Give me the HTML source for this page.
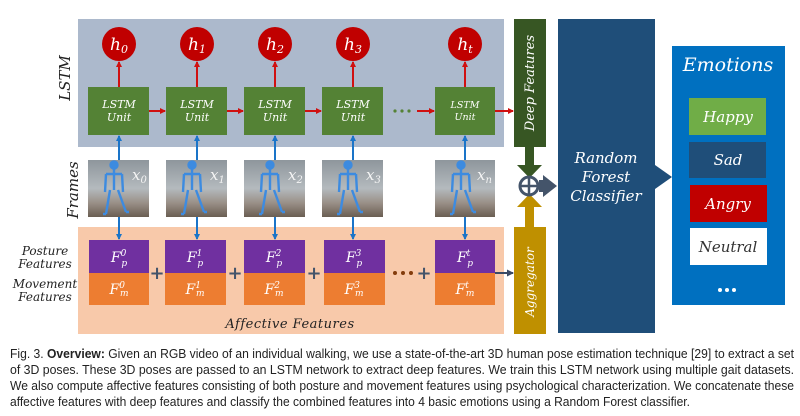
<!DOCTYPE html>
<html><head><meta charset="utf-8"><style>
html,body{margin:0;padding:0;background:#fff;width:800px;height:416px;overflow:hidden}
svg text{font-family:"DejaVu Serif","Liberation Serif",serif;font-style:italic}
.cap{font-family:"Liberation Sans Narrow","Liberation Sans",sans-serif;font-style:normal;font-size:12.5px;fill:#222}
</style></head><body>
<svg width="800" height="416" viewBox="0 0 800 416" xmlns="http://www.w3.org/2000/svg">
<defs>
<marker id="ar" markerWidth="6" markerHeight="6" refX="5" refY="3" orient="auto" markerUnits="userSpaceOnUse"><path d="M0,0L6,3L0,6z" fill="#d01010"/></marker>
<marker id="ab" markerWidth="6" markerHeight="6" refX="5" refY="3" orient="auto" markerUnits="userSpaceOnUse"><path d="M0,0L6,3L0,6z" fill="#1a74c8"/></marker>
<marker id="ad" markerWidth="7" markerHeight="7" refX="6" refY="3.5" orient="auto" markerUnits="userSpaceOnUse"><path d="M0,0L7,3.5L0,7z" fill="#3a4a66"/></marker>
<linearGradient id="fg" x1="0" y1="0" x2="0" y2="1"><stop offset="0" stop-color="#8e969c"/><stop offset="0.5" stop-color="#b4babe"/><stop offset="0.75" stop-color="#9a9088"/><stop offset="1" stop-color="#6a5e52"/></linearGradient>
<g id="sk" fill="none" stroke="#3d8be0" stroke-width="2.4">
<circle cx="0" cy="5" r="3.5" fill="#3d8be0"/><path d="M0,9V30M-8,14L8,14M-8,14L-9,32M8,14L9,32M-4,30L-8,54M4,30L12,52M-8,54h-3M12,52h3"/></g>
</defs>
<rect x="78" y="19" width="426" height="128" fill="#acb9cc"/>
<rect x="78" y="227" width="426" height="107" fill="#f8c9aa"/>
<text x="0" y="0" font-size="15" fill="#222" transform="translate(70,78) rotate(-90)" text-anchor="middle">LSTM</text>
<text x="0" y="0" font-size="15" fill="#222" transform="translate(78,190) rotate(-90)" text-anchor="middle">Frames</text>
<text x="45" y="255" font-size="12" fill="#222" text-anchor="middle">Posture</text>
<text x="45" y="268" font-size="12" fill="#222" text-anchor="middle">Features</text>
<text x="45" y="288" font-size="12" fill="#222" text-anchor="middle">Movement</text>
<text x="45" y="301" font-size="12" fill="#222" text-anchor="middle">Features</text>

<g font-size="11" fill="#fff" text-anchor="middle">
<circle cx="119" cy="44" r="17" fill="#c00000"/><circle cx="197" cy="44" r="17" fill="#c00000"/><circle cx="275" cy="44" r="17" fill="#c00000"/><circle cx="353" cy="44" r="17" fill="#c00000"/><circle cx="465" cy="44" r="17" fill="#c00000"/>
<text x="119" y="50" font-size="17">h<tspan font-size="11" dy="3">0</tspan></text>
<text x="197" y="50" font-size="17">h<tspan font-size="11" dy="3">1</tspan></text>
<text x="275" y="50" font-size="17">h<tspan font-size="11" dy="3">2</tspan></text>
<text x="353" y="50" font-size="17">h<tspan font-size="11" dy="3">3</tspan></text>
<text x="465" y="50" font-size="17">h<tspan font-size="11" dy="3">t</tspan></text>
<g fill="#548235">
<rect x="88" y="87" width="61" height="48"/><rect x="166" y="87" width="61" height="48"/><rect x="244" y="87" width="61" height="48"/><rect x="322" y="87" width="61" height="48"/><rect x="435" y="87" width="60" height="48"/></g>
<text x="119" y="108">LSTM</text><text x="119" y="121">Unit</text>
<text x="197" y="108">LSTM</text><text x="197" y="121">Unit</text>
<text x="275" y="108">LSTM</text><text x="275" y="121">Unit</text>
<text x="353" y="108">LSTM</text><text x="353" y="121">Unit</text>
<text x="465" y="108" font-size="9.5">LSTM</text><text x="465" y="120" font-size="9.5">Unit</text>
</g>
<g stroke="#d01010" stroke-width="2" marker-end="url(#ar)">
<line x1="119" y1="87" x2="119" y2="62"/><line x1="197" y1="87" x2="197" y2="62"/><line x1="275" y1="87" x2="275" y2="62"/><line x1="353" y1="87" x2="353" y2="62"/><line x1="465" y1="87" x2="465" y2="62"/>
<line x1="149" y1="111" x2="165" y2="111"/><line x1="227" y1="111" x2="243" y2="111"/><line x1="305" y1="111" x2="321" y2="111"/><line x1="417" y1="111" x2="434" y2="111"/><line x1="495" y1="111" x2="513" y2="111"/>
</g>
<g fill="#548235"><circle cx="395" cy="111" r="1.6"/><circle cx="402" cy="111" r="1.6"/><circle cx="409" cy="111" r="1.6"/></g>
<g>
<rect x="88" y="160" width="61" height="57" fill="url(#fg)"/><rect x="166" y="160" width="61" height="57" fill="url(#fg)"/><rect x="244" y="160" width="61" height="57" fill="url(#fg)"/><rect x="322" y="160" width="61" height="57" fill="url(#fg)"/><rect x="435" y="160" width="60" height="57" fill="url(#fg)"/>
<use href="#sk" x="114" y="160"/><use href="#sk" x="192" y="160"/><use href="#sk" x="270" y="160"/><use href="#sk" x="348" y="160"/><use href="#sk" x="461" y="160"/>
</g>
<g font-size="15" fill="#f4f4f4">
<text x="132" y="180">x<tspan font-size="10" dy="3">0</tspan></text><text x="210" y="180">x<tspan font-size="10" dy="3">1</tspan></text><text x="288" y="180">x<tspan font-size="10" dy="3">2</tspan></text><text x="366" y="180">x<tspan font-size="10" dy="3">3</tspan></text><text x="477" y="180">x<tspan font-size="10" dy="3">n</tspan></text>
</g>
<g stroke="#1a74c8" stroke-width="2" marker-end="url(#ab)">
<line x1="119" y1="160" x2="119" y2="136"/><line x1="197" y1="160" x2="197" y2="136"/><line x1="275" y1="160" x2="275" y2="136"/><line x1="353" y1="160" x2="353" y2="136"/><line x1="465" y1="160" x2="465" y2="136"/>
<line x1="119" y1="217" x2="119" y2="239"/><line x1="197" y1="217" x2="197" y2="239"/><line x1="275" y1="217" x2="275" y2="239"/><line x1="353" y1="217" x2="353" y2="239"/><line x1="465" y1="217" x2="465" y2="239"/>
</g>
<g>
<rect x="89" y="240" width="60" height="33" fill="#7030a0"/><rect x="89" y="273" width="60" height="32" fill="#ed7d31"/>
<rect x="165" y="240" width="61" height="33" fill="#7030a0"/><rect x="165" y="273" width="61" height="32" fill="#ed7d31"/>
<rect x="244" y="240" width="61" height="33" fill="#7030a0"/><rect x="244" y="273" width="61" height="32" fill="#ed7d31"/>
<rect x="324" y="240" width="61" height="33" fill="#7030a0"/><rect x="324" y="273" width="61" height="32" fill="#ed7d31"/>
<rect x="435" y="240" width="60" height="33" fill="#7030a0"/><rect x="435" y="273" width="60" height="32" fill="#ed7d31"/>
</g>
<g font-size="14" fill="#fff" text-anchor="middle">
<text x="119" y="262">F<tspan font-size="9" dy="-6">0</tspan><tspan font-size="9" dx="-5" dy="10">p</tspan></text>
<text x="195" y="262">F<tspan font-size="9" dy="-6">1</tspan><tspan font-size="9" dx="-5" dy="10">p</tspan></text>
<text x="274" y="262">F<tspan font-size="9" dy="-6">2</tspan><tspan font-size="9" dx="-5" dy="10">p</tspan></text>
<text x="354" y="262">F<tspan font-size="9" dy="-6">3</tspan><tspan font-size="9" dx="-5" dy="10">p</tspan></text>
<text x="465" y="262">F<tspan font-size="9" dy="-6">t</tspan><tspan font-size="9" dx="-3" dy="10">p</tspan></text>
<text x="119" y="294">F<tspan font-size="9" dy="-6">0</tspan><tspan font-size="9" dx="-5" dy="8">m</tspan></text>
<text x="195" y="294">F<tspan font-size="9" dy="-6">1</tspan><tspan font-size="9" dx="-5" dy="8">m</tspan></text>
<text x="274" y="294">F<tspan font-size="9" dy="-6">2</tspan><tspan font-size="9" dx="-5" dy="8">m</tspan></text>
<text x="354" y="294">F<tspan font-size="9" dy="-6">3</tspan><tspan font-size="9" dx="-5" dy="8">m</tspan></text>
<text x="465" y="294">F<tspan font-size="9" dy="-6">t</tspan><tspan font-size="9" dx="-3" dy="8">m</tspan></text>
</g>
<g fill="#44546a" font-family="Liberation Sans" font-weight="bold" font-size="18" text-anchor="middle">
<text x="157" y="279" style="font-style:normal">+</text><text x="235" y="279" style="font-style:normal">+</text><text x="314" y="279" style="font-style:normal">+</text><text x="424" y="279" style="font-style:normal">+</text>
</g>
<g fill="#843c0c"><circle cx="395" cy="273" r="2"/><circle cx="403" cy="273" r="2"/><circle cx="411" cy="273" r="2"/></g>
<line x1="495" y1="273" x2="513" y2="273" stroke="#3a4a66" stroke-width="2" marker-end="url(#ad)"/>
<text x="290" y="328" font-size="13" fill="#222" text-anchor="middle" letter-spacing="0.5">Affective Features</text>

<rect x="514" y="19" width="32" height="128" fill="#375623"/>
<text x="0" y="0" font-size="13" fill="#fff" text-anchor="middle" transform="translate(534,83) rotate(-90)">Deep Features</text>
<path d="M525,147h9v18h8l-12.5,13l-12.5,-13h8z" fill="#375623"/>
<rect x="514" y="227" width="32" height="107" fill="#bf9000"/>
<text x="0" y="0" font-size="12" fill="#fff" text-anchor="middle" transform="translate(534,282) rotate(-90)">Aggregator</text>
<path d="M525,227h9v-20h8l-12.5,-13l-12.5,13h8z" fill="#bf9000"/>
<circle cx="529" cy="186" r="9" fill="#fff" stroke="#44546a" stroke-width="3"/>
<path d="M529,177v18M520,186h18" stroke="#44546a" stroke-width="2.5"/>
<path d="M539,180h4v-5l14,11l-14,11v-5h-4z" fill="#44546a"/>

<rect x="558" y="19" width="97" height="314" fill="#1f4e79"/>
<text x="606" y="163" font-size="15" fill="#fff" text-anchor="middle">Random</text>
<text x="606" y="182" font-size="15" fill="#fff" text-anchor="middle">Forest</text>
<text x="606" y="201" font-size="15" fill="#fff" text-anchor="middle">Classifier</text>
<path d="M655,165l17,12l-17,12z" fill="#1f4e79"/>
<rect x="672" y="46" width="113" height="259" fill="#0070c0"/>
<text x="728" y="71" font-size="19" fill="#fff" text-anchor="middle">Emotions</text>
<rect x="689" y="98" width="77" height="37" fill="#70ad47"/>
<text x="728" y="122" font-size="15" fill="#fff" text-anchor="middle">Happy</text>
<rect x="689" y="142" width="77" height="36" fill="#1f4e79"/>
<text x="728" y="165" font-size="15" fill="#fff" text-anchor="middle">Sad</text>
<rect x="690" y="185" width="77" height="37" fill="#c00000"/>
<text x="728" y="209" font-size="15" fill="#fff" text-anchor="middle">Angry</text>
<rect x="690" y="228" width="77" height="37" fill="#fff"/>
<text x="728" y="252" font-size="15" fill="#333" text-anchor="middle">Neutral</text>
<g fill="#fff"><circle cx="720" cy="290" r="2"/><circle cx="727" cy="290" r="2"/><circle cx="734" cy="290" r="2"/></g>

<text class="cap" x="10" y="358" textLength="784" lengthAdjust="spacingAndGlyphs">Fig. 3. <tspan font-weight="bold">Overview:</tspan> Given an RGB video of an individual walking, we use a state-of-the-art 3D human pose estimation technique [29] to extract a set</text>
<text class="cap" x="10" y="374" textLength="784" lengthAdjust="spacingAndGlyphs">of 3D poses. These 3D poses are passed to an LSTM network to extract deep features. We train this LSTM network using multiple gait datasets.</text>
<text class="cap" x="10" y="390" textLength="784" lengthAdjust="spacingAndGlyphs">We also compute affective features consisting of both posture and movement features using psychological characterization. We concatenate these</text>
<text class="cap" x="10" y="406" textLength="680" lengthAdjust="spacingAndGlyphs">affective features with deep features and classify the combined features into 4 basic emotions using a Random Forest classifier.</text>
</svg>
</body></html>
